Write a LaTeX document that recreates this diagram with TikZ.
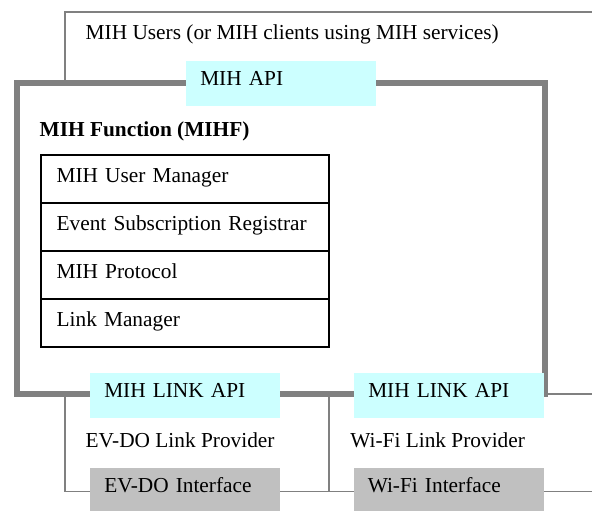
\documentclass[tikz,border=0pt]{standalone}
\usepackage{fontspec}
\setmainfont{Liberation Serif}
\usepackage{tikz}
\usetikzlibrary{positioning,backgrounds}
\definecolor{apicyan}{HTML}{CCFFFF}
\definecolor{ifgray}{HTML}{C0C0C0}
\definecolor{linegray}{HTML}{808080}
\tikzset{
  every node/.style={font=\fontsize{16}{19}\selectfont},
  apibox/.style={fill=apicyan, anchor=north west, minimum width=142.5pt, minimum height=34.1pt,
    text width=121.5pt, inner xsep=10.5pt, align=left, text height=10.9pt, text depth=7.5pt},
  ifbox/.style={apibox, fill=ifgray},
  layer/.style={draw=black, line width=1.5pt, minimum width=216pt, minimum height=36pt,
    text width=193pt, inner xsep=11.5pt, align=left, text height=11pt, text depth=6.5pt, outer sep=0pt},
  thickline/.style={draw=linegray, line width=4pt},
  thinline/.style={draw=linegray, line width=1.4pt}
}
\begin{document}
\begin{tikzpicture}[x=0.75pt, y=-0.75pt]
    \useasboundingbox (0,0) rectangle (592,510);

    \node[anchor=base west] (users) at (81,39.5) {MIH Users (or MIH clients using MIH services)};
    \node[apibox] (api) at (186,60.5) {MIH API};

    \node[anchor=base west, font=\fontsize{16}{19}\selectfont\bfseries] (mihf) at (35,136) {MIH Function (MIHF)};
    \node[layer, anchor=north west] (usermgr) at (41.3,155) {MIH User Manager};
    \node[layer, below=0pt of usermgr] (esr) {Event Subscription Registrar};
    \node[layer, below=0pt of esr] (proto) {MIH Protocol};
    \node[layer, below=0pt of proto] (linkmgr) {Link Manager};

    \node[apibox] (linkapiA) at (90,372.7) {MIH LINK API};
    \node[apibox] (linkapiB) at (354,372.7) {MIH LINK API};
    \node[anchor=base west] (evdo) at (81,447) {EV-DO Link Provider};
    \node[anchor=base west] (wifi) at (345.7,447) {Wi-Fi Link Provider};
    \node[ifbox] (evdoif) at (90,467.7) {EV-DO Interface};
    \node[ifbox] (wifiif) at (353.5,467.7) {Wi-Fi Interface};

    \coordinate (fnw) at (17,83);
    \coordinate (fse) at (545,394);
    \coordinate (ucorner) at (65.3,11.7);
    \coordinate (uend) at (592,11.7);
    \coordinate (tapA) at (65.3,394);
    \coordinate (tapB) at (328.7,394);
    \coordinate (rend) at (592,394);
    \coordinate (bend) at (592,491.5);

    \begin{scope}[on background layer]
        \draw[thinline] (ucorner |- fnw) -- (ucorner) -- (uend);
        \draw[thickline] (fnw) rectangle (fse);
        \draw[thinline] (tapA) |- (bend);
        \draw[thinline] (tapB) -- (tapB |- bend);
        \draw[thinline] (fse) -- (rend);
    \end{scope}
\end{tikzpicture}
\end{document}
